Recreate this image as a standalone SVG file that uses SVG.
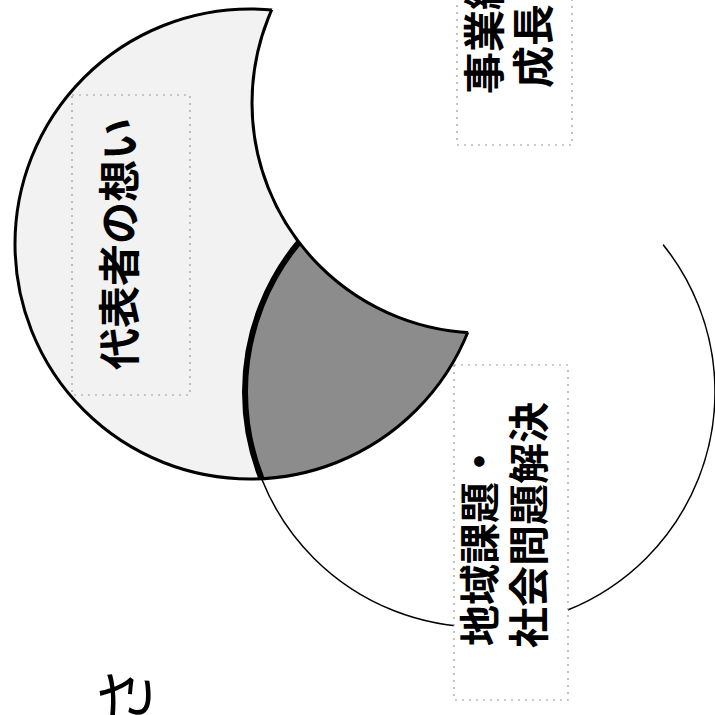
<svg xmlns="http://www.w3.org/2000/svg" width="715" height="715" viewBox="0 0 715 715">
<style>
.lbl{font-family:"Noto Sans CJK JP","Noto Sans CJK SC",sans-serif;font-weight:700;fill:#000}
.thin{font-family:"Noto Sans CJK JP","Noto Sans CJK SC",sans-serif;font-weight:400;fill:#000}
.box{fill:#fff;stroke:#9a9a9a;stroke-width:1.2;stroke-dasharray:2 5}
.boxclear{fill:none;stroke:#9a9a9a;stroke-width:1.2;stroke-dasharray:2 5}
.ol{fill:none;stroke:#000}
</style>
<defs>
<clipPath id="clipA"><circle cx="250" cy="244" r="235"/></clipPath>
</defs>
<rect width="715" height="715" fill="#fff"/>
<g id="node-omoi">
<circle cx="250" cy="244" r="235" fill="#f2f2f2"/>
</g>
<g id="node-chiiki">
<circle cx="480" cy="392" r="235" fill="#8c8c8c" clip-path="url(#clipA)"/>
<circle class="ol" cx="480" cy="392" r="235" stroke-width="1.5"/>
<circle class="ol" cx="480" cy="392" r="235" stroke-width="6" clip-path="url(#clipA)"/>
</g>
<g id="outline-omoi">
<circle class="ol" cx="250" cy="244" r="235" stroke-width="3"/>
</g>
<g id="node-jigyo">
<circle cx="482" cy="103" r="230" fill="#fff"/>
<circle class="ol" cx="482" cy="103" r="230" stroke-width="3" clip-path="url(#clipA)"/>
</g>
<g id="connectors"></g>
<g id="label-omoi">
<rect class="boxclear" x="72" y="95" width="118" height="300"/>
<text class="lbl" font-size="42" transform="translate(135,370) rotate(-90)">代表者の想い</text>
</g>
<g id="label-chiiki">
<rect class="box" x="454" y="365" width="114" height="335"/>
<text class="lbl" font-size="41" transform="translate(495,646) rotate(-90)">地域課題・</text>
<text class="lbl" font-size="41" transform="translate(544,648) rotate(-90)">社会問題解決</text>
</g>
<g id="label-jigyo">
<rect class="box" x="457" y="-5" width="115" height="150"/>
<text class="lbl" font-size="42" transform="translate(500,94) rotate(-90)">事業継</text>
<text class="lbl" font-size="42" transform="translate(549,88) rotate(-90)">成長</text>
</g>
<g id="label-bottom">
<text class="thin" font-size="60" transform="translate(148,726) rotate(-90)">さ</text>
</g>
</svg>
